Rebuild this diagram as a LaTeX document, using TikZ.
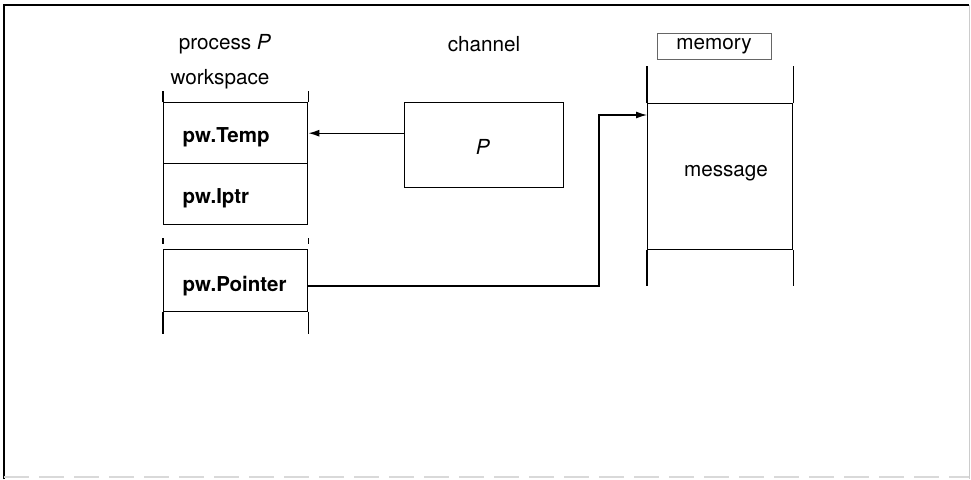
\documentclass[tikz,border=0pt]{standalone}
\usepackage{fontspec}
\setmainfont{TeX Gyre Heros}
\usetikzlibrary{arrows.meta,calc}
\begin{document}
\begin{tikzpicture}[x=1pt,y=-1pt,line width=1.4pt,
  every node/.style={font=\fontsize{20.7}{24}\selectfont},
  cell/.style={draw,minimum width=144pt,inner sep=0pt,anchor=north west},
  lbl/.style={anchor=west,inner sep=0pt,font=\fontsize{20.5}{24}\selectfont\bfseries},
  arr/.style={-{Latex[length=11pt,width=7pt]}}]
\useasboundingbox (0,0) rectangle (971,479);
% frame
\draw[line width=1.5pt] (4,479) -- (4,5) -- (969,5);
\draw[gray!40,line width=1pt] (969,5) -- (969,479);
\draw[gray!30,line width=2pt,dash pattern=on 25pt off 10pt] (4,477) -- (969,477);
% headings
\node (hproc) at (225,44) {process \textit{P}};
\node (hws) at (220,79) {workspace};
\node (hchan) at (484,44) {channel};
\node[draw,gray!80!black,line width=0.8pt,minimum width=114pt,minimum height=26pt,inner sep=0pt,text=black] (hmem) at (714,46) {memory};
% workspace
\node[cell,minimum height=61pt] (temp) at (163,102) {};
\node[cell,minimum height=61pt] (iptr) at (163,163) {};
\node[cell,minimum height=62pt] (ptr) at (163,249) {};
\node[lbl] (ltemp) at (182,137) {pw.Temp};
\node[lbl] (liptr) at (182,198) {pw.Iptr};
\node[lbl] (lptr) at (182,286) {pw.Pointer};
\draw (temp.north west) -- ++(0,-11);
\draw (temp.north east) -- ++(0,-11);
\draw (iptr.south west) ++(0,13) -- ++(0,6);
\draw (iptr.south east) ++(0,13) -- ++(0,6);
\draw (ptr.south west) -- ++(0,22);
\draw (ptr.south east) -- ++(0,22);
% channel
\node[draw,minimum width=159pt,minimum height=85pt,inner sep=0pt,anchor=north west] (chan) at (404,102) {};
\node (pch) at (483,147) {\textit{P}};
% memory
\node[draw,minimum width=145pt,minimum height=146pt,inner sep=0pt,anchor=north west] (msg) at (647,103) {};
\node (lmsg) at (726,173) {message};
\draw (msg.north west) -- ++(0,-37);
\draw (msg.north east) -- ++(0,-37);
\draw (msg.south west) -- ++(0,36);
\draw (msg.south east) -- ++(0,36);
% connectors
\draw[arr,line width=1.2pt] (temp.east -| chan.west) -- (temp.east);
\coordinate (bend) at (599,115);
\draw[arr,line width=1.2pt] (lptr.west -| ptr.east) -- (lptr.west -| bend) -- (bend) -- (bend -| msg.west);
\end{tikzpicture}
\end{document}
